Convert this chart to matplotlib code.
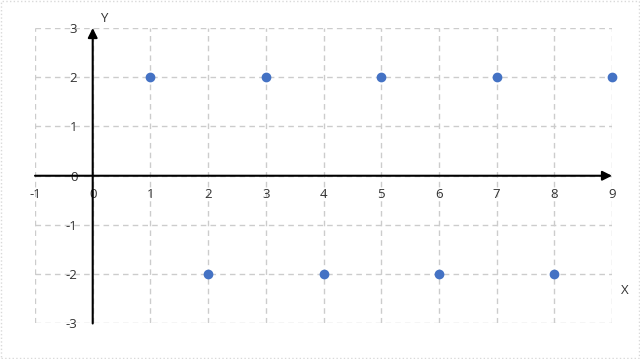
import matplotlib.pyplot as plt
from matplotlib.patches import Rectangle

# data
x_vals = [1, 3, 5, 7, 9, 2, 4, 6, 8]
y_vals = [2, 2, 2, 2, 2, -2, -2, -2, -2]
x_ticks = list(range(-1, 10))
y_ticks = list(range(-3, 4))

plt.rcParams['font.family'] = ['Open Sans', 'DejaVu Sans']
plt.rcParams['axes.unicode_minus'] = False

fig = plt.figure(figsize=(6.4, 3.59), dpi=100)
ax = fig.add_axes([0.0547, 0.0989, 0.9016, 0.8231])

ax.set_xlim(-1, 9)
ax.set_ylim(-3, 3)
ax.set_xticks(x_ticks)
ax.set_yticks(y_ticks)
ax.grid(True, color='#cccccc', linestyle=(0, (4, 3)), linewidth=1)
ax.set_axisbelow(True)
for gl in ax.get_xgridlines() + ax.get_ygridlines():
    gl.set_clip_on(False)

# put tick labels on the zero lines
ax.spines['left'].set_position(('data', 0))
ax.spines['bottom'].set_position(('data', 0))
for s in ax.spines.values():
    s.set_visible(False)
ax.tick_params(length=0, labelsize=9.5, colors='#333333')
ax.tick_params(axis='y', pad=11)
ax.tick_params(axis='x', pad=9)

# axis arrows
ax.annotate('', xy=(0, 3), xytext=(0, -3),
            arrowprops=dict(arrowstyle='-|>', color='black', lw=1.5, mutation_scale=14,
                            shrinkA=0, shrinkB=0))
ax.annotate('', xy=(9, 0), xytext=(-1, 0),
            arrowprops=dict(arrowstyle='-|>', color='black', lw=1.5, mutation_scale=14,
                            shrinkA=0, shrinkB=0))

ax.scatter(x_vals, y_vals, s=36, color='#4472C4', zorder=5, clip_on=False)

fig.text(104 / 640, 1 - 18 / 359, 'Y', ha='center', va='center', fontsize=9.5, color='#333333')
fig.text(625 / 640, 1 - 290 / 359, 'X', ha='center', va='center', fontsize=9.5, color='#333333')

# light dotted frame around the whole picture
fig.patches.append(Rectangle((0.002, 0.003), 0.996, 0.994, transform=fig.transFigure,
                             fill=False, edgecolor='#d9d9d9', linestyle=':', linewidth=1))

fig.savefig('out.png', dpi=100)
